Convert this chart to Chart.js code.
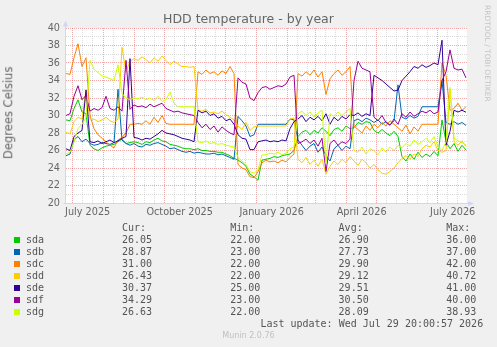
<!DOCTYPE html>
<html>
<head>
<meta charset="utf-8">
<title>HDD temperature - by year</title>
<script src="https://cdn.jsdelivr.net/npm/chart.js@4.4.0/dist/chart.umd.min.js"></script>
<style>
  body { margin: 0; background: #f0f0f0; }
  #wrap { position: relative; width: 497px; height: 347px; overflow: hidden; font-family: "DejaVu Sans", sans-serif; }
  #c { position: absolute; left: 0; top: 0; }
  .txt { position: absolute; white-space: pre; line-height: 1; }
  #title { left: 0; width: 497px; top: 13.4px; text-align: center; font-size: 12.5px; color: #666; }
  #ytitle { left: -90.7px; top: 107.25px; width: 200px; text-align: center; font-size: 11.5px; color: #666; transform: rotate(-90deg); }
  #rrd { left: 483.9px; top: 5px; font-size: 7.5px; color: #c4c4c4; writing-mode: vertical-rl; }
  #munin { left: 0; width: 497px; top: 332.2px; text-align: center; font-size: 8px; color: #c0c0c0; }
  .mono { font-family: "DejaVu Sans Mono", monospace; font-size: 10px; color: #555; }
  .sw { position: absolute; width: 6px; height: 6px; }
</style>
</head>
<body>
<div id="wrap">
  <canvas id="c" width="497" height="347"></canvas>
  <div id="title" class="txt">HDD temperature - by year</div>
  <div id="ytitle" class="txt">Degrees Celsius</div>
  <div id="rrd" class="txt">RRDTOOL / TOBI OETIKER</div>
  <div id="munin" class="txt">Munin 2.0.76</div>
  <div id="legend"></div>
</div>
<script>
// jours depuis le début du graphe (24 juin 2025 20:00), un point tous les 4 jours
const days = Array.from({ length: 101 }, (_, i) => i * 4);

const disks = ['sda', 'sdb', 'sdc', 'sdd', 'sde', 'sdf', 'sdg'];
const colors = ['#00cc00', '#0066b3', '#ff8000', '#ffcc00', '#330099', '#990099', '#ccff00'];

const sda = [29.5, 29.4, 30.8, 31.8, 30.4, 30.2, 26.6, 26.2, 26.0, 26.3,
  26.5, 26.6, 26.7, 27.0, 27.3, 26.8, 26.9, 27.0, 26.9, 26.7,
  27.0, 26.9, 27.2, 27.4, 27.1, 27.0, 26.7, 26.6, 26.5, 26.3,
  26.2, 26.2, 26.1, 26.2, 26.0, 26.0, 25.9, 25.9, 25.8, 25.8,
  25.6, 25.4, 25.1, 24.9, 24.6, 24.2, 23.3, 23.0, 22.6, 24.9,
  25.0, 25.1, 25.3, 25.2, 25.4, 25.5, 25.6, 26.0, 27.6, 28.1,
  28.3, 27.8, 28.3, 28.0, 28.6, 28.2, 27.7, 28.4, 28.6, 28.2,
  28.8, 28.5, 28.6, 29.2, 29.0, 29.3, 29.2, 28.3, 28.0, 28.4,
  28.0, 27.7, 28.2, 27.6, 25.3, 24.8, 25.6, 25.0, 25.8, 25.2,
  25.6, 25.3, 25.9, 25.4, 29.5, 27.0, 26.2, 26.8, 25.9, 26.6,
  26.05];
const sdb = [25.4, 25.6, 27.2, 27.6, 27.0, 27.3, 26.8, 26.6, 26.7, 26.9,
  26.8, 26.7, 26.9, 33.0, 27.2, 26.8, 26.6, 26.8, 26.5, 26.4,
  26.7, 26.6, 26.8, 26.9, 26.7, 26.5, 26.2, 26.3, 26.1, 25.9,
  25.8, 25.9, 25.7, 25.8, 25.7, 25.6, 25.6, 25.7, 25.5, 25.6,
  25.4, 25.2, 25.0, 29.9, 29.4, 28.8, 27.6, 27.8, 29.0, 29.0,
  29.0, 29.0, 29.0, 29.0, 29.0, 29.0, 29.6, 29.5, 27.2, 26.6,
  26.0, 26.5, 26.8, 25.8, 26.4, 25.4, 24.8, 26.2, 26.6, 26.0,
  26.5, 26.2, 29.4, 29.6, 29.3, 29.7, 29.5, 29.2, 29.5, 29.0,
  29.3, 28.9, 29.4, 33.5, 29.8, 29.6, 30.0, 29.7, 29.9, 31.0,
  31.0, 31.0, 31.0, 31.0, 34.0, 29.2, 29.0, 29.3, 29.0, 29.2,
  28.87];
const sdc = [34.8, 34.7, 36.6, 38.2, 35.6, 36.6, 30.0, 28.5, 27.8, 27.4,
  27.0, 26.6, 26.3, 27.2, 27.5, 28.0, 29.0, 29.0, 29.1, 29.0,
  29.4, 29.0, 29.8, 29.2, 30.0, 29.1, 29.0, 29.0, 29.0, 29.0,
  29.0, 29.0, 29.0, 35.0, 34.7, 35.2, 34.8, 35.0, 34.6, 35.1,
  34.8, 35.6, 34.8, 24.4, 24.0, 23.8, 23.0, 22.9, 23.6, 24.6,
  24.9, 24.7, 24.8, 24.6, 24.9, 24.7, 25.2, 25.6, 34.8, 34.5,
  35.0, 34.6, 35.2, 34.4, 35.0, 32.4, 34.2, 34.8, 35.2, 34.6,
  35.0, 35.6, 28.8, 28.4, 28.0, 28.8, 28.3, 29.0, 28.6, 29.2,
  28.8, 29.4, 29.0, 28.6, 28.2, 28.9, 27.9, 28.7, 28.2, 29.0,
  29.0, 29.0, 29.0, 29.0, 36.0, 34.6, 30.6, 30.8, 31.4, 30.6,
  31.0];
const sdd = [28.1, 27.9, 29.3, 29.8, 29.6, 33.0, 29.5, 29.6, 29.3, 29.5,
  29.8, 29.4, 29.2, 29.6, 37.8, 35.0, 36.2, 36.5, 36.3, 36.7,
  36.4, 36.0, 36.6, 36.2, 36.8, 36.3, 35.8, 36.2, 35.9, 35.6,
  35.6, 35.5, 35.6, 30.6, 30.5, 30.7, 30.3, 30.4, 30.2, 30.5,
  30.1, 29.8, 29.5, 28.8, 28.4, 29.2, 28.3, 28.7, 28.8, 28.8,
  28.8, 28.8, 28.8, 28.8, 28.8, 28.8, 29.6, 29.7, 25.0, 24.6,
  25.2, 24.4, 24.9, 24.2, 25.0, 23.3, 24.2, 24.8, 24.4, 25.0,
  24.6, 25.3, 24.8, 24.3, 25.0, 24.6, 24.0, 24.4, 23.8, 23.4,
  23.3, 23.6, 24.0, 24.6, 25.1, 25.4, 25.0, 25.6, 25.3, 26.2,
  26.6, 26.4, 27.0, 26.0, 25.8, 26.0, 33.0, 27.0, 26.6, 27.1,
  26.43];
const sde = [26.2, 26.0, 27.6, 28.0, 28.3, 32.9, 27.0, 26.9, 27.1, 26.8,
  27.0, 27.2, 26.9, 27.1, 27.4, 27.6, 36.5, 27.5, 27.4, 27.2,
  27.4, 27.3, 27.6, 27.9, 28.3, 28.0, 27.9, 27.8, 27.6, 27.4,
  27.3, 27.2, 27.0, 30.6, 30.3, 30.5, 30.0, 30.2, 29.7, 29.9,
  29.4, 29.6, 29.0, 27.8, 27.4, 27.3, 26.1, 26.1, 27.0, 27.1,
  27.2, 27.0, 27.1, 27.0, 27.2, 27.1, 28.5, 29.3, 29.6, 30.0,
  29.3, 29.8, 29.5, 29.9, 29.4, 30.2, 29.0, 29.8, 29.4, 29.9,
  29.6, 30.1, 30.0, 30.3, 29.9, 30.2, 30.0, 34.6, 34.3, 34.0,
  33.6, 33.2, 32.8, 32.9, 34.0, 34.5, 35.0, 35.6, 35.4, 35.8,
  35.5, 35.7, 36.0, 35.8, 38.6, 26.6, 28.2, 30.6, 30.4, 30.6,
  30.37];
const sdf = [30.0, 30.2, 32.2, 33.4, 31.8, 32.3, 30.5, 30.8, 30.6, 30.9,
  32.2, 30.8, 30.6, 31.0, 30.5, 36.3, 30.7, 31.2, 31.0, 31.1,
  30.9, 31.3, 31.0, 31.2, 31.4, 30.8, 30.6, 30.4, 30.5, 30.3,
  30.2, 30.1, 30.0, 29.2, 28.6, 29.0, 28.4, 28.8, 28.1, 28.7,
  28.3, 28.0, 27.8, 34.3, 33.8, 33.6, 32.0, 31.7, 32.6, 33.2,
  33.3, 33.0, 33.2, 33.4, 33.3, 33.6, 34.4, 34.6, 26.8, 27.0,
  27.3, 26.8, 27.2, 26.5, 27.4, 23.6, 26.8, 27.2, 26.6, 27.0,
  26.8, 27.3, 34.0, 36.2, 35.4, 35.2, 35.0, 29.8, 29.4, 30.0,
  29.2, 28.9, 29.6, 29.0, 30.2, 29.8, 30.4, 29.9, 30.2, 30.5,
  30.3, 30.6, 30.2, 30.4, 34.0, 35.0, 37.5, 35.4, 35.2, 35.3,
  34.29];
const sdg = [25.6, 25.8, 27.0, 28.5, 29.0, 29.8, 36.3, 35.3, 34.9, 34.5,
  34.4, 34.2, 34.0, 35.8, 32.5, 32.0, 31.8, 32.0, 31.9, 32.1,
  31.8, 32.0, 31.7, 32.2, 31.6, 31.8, 32.7, 31.4, 31.0, 31.0,
  31.0, 31.0, 31.0, 27.0, 26.9, 27.1, 26.8, 26.9, 26.7, 26.8,
  26.6, 26.5, 26.4, 25.2, 24.8, 24.4, 23.6, 23.4, 23.8, 25.5,
  25.5, 25.7, 25.6, 25.8, 25.5, 25.7, 26.2, 26.4, 30.2, 30.5,
  30.0, 30.4, 29.8, 30.3, 30.6, 24.5, 30.2, 29.9, 30.4, 30.0,
  30.4, 30.8, 26.0, 25.8, 26.4, 25.6, 26.2, 26.0, 25.5, 26.3,
  25.8, 26.4, 26.0, 26.6, 26.3, 26.8, 26.5, 27.2, 26.7, 27.0,
  27.4, 26.9, 27.6, 26.4, 26.0, 27.0, 33.2, 27.4, 27.1, 26.9,
  26.63];
const series = [sda, sdb, sdc, sdd, sde, sdf, sdg];

const curVals = ['26.05', '28.87', '31.00', '26.43', '30.37', '34.29', '26.63'];
const minVals = ['22.00', '23.00', '22.00', '22.00', '25.00', '23.00', '22.00'];
const avgVals = ['26.90', '27.73', '29.90', '29.12', '29.51', '30.50', '28.09'];
const maxVals = ['36.00', '37.00', '42.00', '40.72', '41.00', '40.00', '38.93'];

// débuts de mois (en jours depuis le début) et libellés de l'axe x
const monthDays = [6.17, 37.17, 68.17, 98.17, 129.17, 159.17, 190.17, 221.17, 249.17, 280.17, 310.17, 341.17, 371.17];
const monthLabels = ['July 2025', '', '', 'October 2025', '', '', 'January 2026', '', '', 'April 2026', '', '', 'July 2026'];

const majorGrid = 'rgba(224,80,80,0.5)';
const minorGrid = 'rgba(186,186,186,0.5)';
const axisColor = '#cfd6f8';

// fond blanc du graphe, axes et flèches façon rrdtool
const muninFrame = {
    id: 'muninFrame',
    beforeDraw: function(chart){
        const a = chart.chartArea;
        const ctx = chart.ctx;
        ctx.save();
        ctx.fillStyle = '#ffffff';
        ctx.fillRect(a.left, a.top, a.right - a.left, a.bottom - a.top);
        ctx.restore();
    },
    afterDraw: function(chart){
        const a = chart.chartArea;
        const ctx = chart.ctx;
        const x0 = a.left - 0.5;
        const y0 = a.bottom + 0.5;
        ctx.save();
        ctx.strokeStyle = axisColor;
        ctx.fillStyle = axisColor;
        ctx.lineWidth = 1;
        ctx.beginPath();
        ctx.moveTo(x0, y0);
        ctx.lineTo(x0, a.top - 2);
        ctx.moveTo(x0 - 2, y0);
        ctx.lineTo(a.right + 2, y0);
        ctx.stroke();
        ctx.beginPath();
        ctx.moveTo(x0, a.top - 7.5);
        ctx.lineTo(x0 - 2.5, a.top - 1.5);
        ctx.lineTo(x0 + 2.5, a.top - 1.5);
        ctx.closePath();
        ctx.fill();
        ctx.beginPath();
        ctx.moveTo(a.right + 7, y0);
        ctx.lineTo(a.right + 1, y0 - 2.5);
        ctx.lineTo(a.right + 1, y0 + 2.5);
        ctx.closePath();
        ctx.fill();
        ctx.restore();
    }
};

Chart.defaults.font.family = '"DejaVu Sans", sans-serif';
Chart.defaults.color = '#666';

const chart = new Chart(document.getElementById('c'), {
    type: 'line',
    data: {
        datasets: disks.map(function(name, i){
            return {
                label: name,
                data: days.map(function(d, j){ return { x: d, y: series[i][j] }; }),
                borderColor: colors[i],
                borderWidth: 1,
                pointRadius: 0,
                tension: 0,
                fill: false,
                order: disks.length - 1 - i
            };
        })
    },
    options: {
        responsive: false,
        animation: false,
        devicePixelRatio: 1,
        events: [],
        layout: { padding: { left: 36, top: 28, right: 30, bottom: 124 } },
        plugins: {
            legend: { display: false },
            tooltip: { enabled: false }
        },
        scales: {
            x: {
                type: 'linear',
                min: 0,
                max: 401,
                afterBuildTicks: function(scale){
                    let t = [];
                    monthDays.forEach(function(d){
                        t.push({ value: d });
                        if (d + 10 < 401) t.push({ value: d + 10 });
                        if (d + 20 < 401) t.push({ value: d + 20 });
                    });
                    t.sort(function(a, b){ return a.value - b.value; });
                    scale.ticks = t;
                },
                afterFit: function(scale){ scale.height = 20; },
                ticks: {
                    autoSkip: false,
                    maxRotation: 0,
                    minRotation: 0,
                    labelOffset: 15.5,
                    padding: 4,
                    color: '#666',
                    font: { size: 9.7 },
                    callback: function(value){
                        const i = monthDays.indexOf(value);
                        return i >= 0 ? monthLabels[i] : '';
                    }
                },
                grid: {
                    drawTicks: false,
                    color: function(ctx){ return monthDays.indexOf(ctx.tick.value) >= 0 ? majorGrid : minorGrid; }
                },
                border: { display: false, dash: [1, 1] }
            },
            y: {
                min: 20,
                max: 40,
                afterFit: function(scale){ scale.width = 30; },
                ticks: {
                    stepSize: 1,
                    autoSkip: false,
                    padding: 6,
                    color: '#666',
                    font: { size: 9.7 },
                    callback: function(v){ return v % 2 === 0 ? String(v) : ''; }
                },
                grid: {
                    drawTicks: false,
                    color: function(ctx){ return ctx.tick.value % 2 === 0 ? majorGrid : minorGrid; }
                },
                border: { display: false, dash: [1, 1] }
            }
        }
    },
    plugins: [muninFrame]
});

// légende munin : carré de couleur, nom, Cur / Min / Avg / Max
const legend = document.getElementById('legend');
function addText(txt, left, top){
    const el = document.createElement('div');
    el.className = 'txt mono';
    el.style.left = left + 'px';
    el.style.top = top + 'px';
    el.textContent = txt;
    legend.appendChild(el);
}
const cols = [122, 230.2, 338.6, 446.2];
['Cur:', 'Min:', 'Avg:', 'Max:'].forEach(function(h, k){ addText(h, cols[k], 222.8); });
disks.forEach(function(name, i){
    const top = 234.8 + 12 * i;
    const sw = document.createElement('div');
    sw.className = 'sw';
    sw.style.left = '14px';
    sw.style.top = (237 + 12 * i) + 'px';
    sw.style.background = colors[i];
    legend.appendChild(sw);
    addText(name, 26, top);
    addText(curVals[i], cols[0], top);
    addText(minVals[i], cols[1], top);
    addText(avgVals[i], cols[2], top);
    addText(maxVals[i], cols[3], top);
});
addText('Last update: Wed Jul 29 20:00:57 2026', 260.4, 318.8);
</script>
</body>
</html>
